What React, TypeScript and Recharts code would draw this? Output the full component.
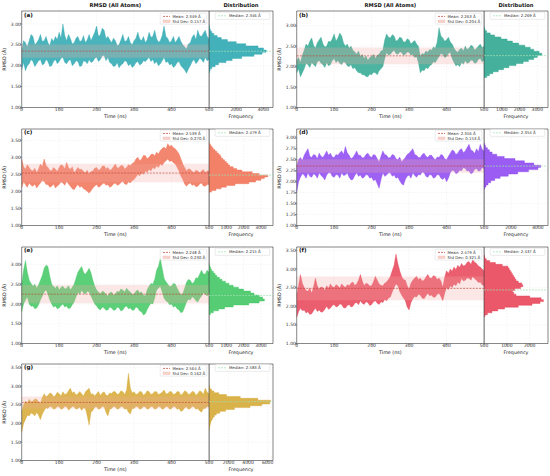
import React from 'react';
import { ComposedChart, Area, XAxis, YAxis, CartesianGrid, ReferenceLine, ReferenceArea } from 'recharts';

const TIME = [
  0, 5, 10, 15, 20, 25, 30, 35, 40, 45,
  50, 55, 60, 65, 70, 75, 80, 85, 90, 95,
  100, 105, 110, 115, 120, 125, 130, 135, 140, 145,
  150, 155, 160, 165, 170, 175, 180, 185, 190, 195,
  200, 205, 210, 215, 220, 225, 230, 235, 240, 245,
  250, 255, 260, 265, 270, 275, 280, 285, 290, 295,
  300, 305, 310, 315, 320, 325, 330, 335, 340, 345,
  350, 355, 360, 365, 370, 375, 380, 385, 390, 395,
  400, 405, 410, 415, 420, 425, 430, 435, 440, 445,
  450, 455, 460, 465, 470, 475, 480, 485, 490, 495,
  500,
];
const TIME_TICKS = [0, 100, 200, 300, 400, 500];

// (a)
const A_HI = [
  2.35, 2.60, 2.55, 2.45, 2.60, 2.75, 2.70, 2.50, 2.55, 2.62,
  2.75, 2.58, 2.60, 2.70, 2.55, 2.48, 2.65, 2.58, 2.70, 2.62,
  2.80, 2.66, 3.00, 2.72, 2.60, 2.75, 2.65, 2.52, 2.55, 2.66,
  2.70, 2.58, 2.60, 2.72, 2.55, 2.62, 2.75, 2.60, 2.70, 2.80,
  2.95, 2.70, 2.75, 2.90, 2.85, 2.65, 2.70, 2.62, 2.55, 2.66,
  2.60, 2.48, 2.50, 2.62, 2.75, 2.58, 2.60, 2.70, 2.55, 2.50,
  2.60, 2.66, 2.80, 2.64, 2.60, 2.70, 2.55, 2.62, 2.80, 2.68,
  2.70, 2.85, 2.65, 2.56, 2.60, 2.72, 2.95, 2.70, 2.65, 2.55,
  2.60, 2.70, 2.55, 2.62, 2.70, 2.58, 2.50, 2.45, 2.40, 2.52,
  2.55, 2.68, 2.75, 2.62, 2.85, 2.72, 2.70, 2.78, 2.85, 2.70,
  2.65,
];
const A_LO = [
  1.90, 2.08, 1.88, 2.00, 2.05, 2.15, 2.10, 1.98, 2.05, 2.12,
  2.15, 2.02, 2.05, 2.15, 2.10, 1.98, 2.00, 2.10, 2.15, 2.05,
  2.10, 2.18, 2.20, 2.08, 2.05, 2.12, 2.15, 2.00, 2.05, 2.12,
  2.10, 1.98, 2.00, 2.12, 2.10, 2.05, 2.15, 2.08, 2.10, 2.18,
  2.20, 2.10, 2.15, 2.24, 2.25, 2.12, 2.20, 2.08, 2.05, 1.98,
  2.00, 2.08, 1.95, 2.02, 2.05, 2.12, 2.10, 2.00, 2.05, 1.96,
  2.00, 2.08, 2.10, 2.02, 2.05, 2.12, 2.10, 2.15, 2.20, 2.10,
  2.15, 2.05, 2.10, 2.00, 2.05, 2.12, 2.20, 2.08, 2.10, 2.02,
  2.05, 1.96, 2.00, 2.08, 2.10, 2.00, 1.95, 1.90, 1.82, 1.92,
  2.00, 2.10, 2.15, 2.05, 2.10, 2.18, 2.15, 2.08, 2.20, 2.12,
  2.15,
];
const A_BINS = [1.85, 1.90, 1.95, 2.00, 2.05, 2.10, 2.15, 2.20, 2.25, 2.30, 2.35, 2.40, 2.45, 2.50, 2.55, 2.60, 2.65, 2.70, 2.75, 2.80, 2.85, 2.90, 2.95];
const A_COUNTS = [30, 80, 200, 450, 700, 1250, 1700, 2400, 3300, 3900, 4200, 4000, 3600, 2700, 2000, 1350, 900, 600, 350, 200, 100, 50, 20];

// (b)
const B_HI = [
  2.15, 2.22, 2.10, 2.28, 2.40, 2.55, 2.50, 2.62, 2.70, 2.52,
  2.45, 2.58, 2.65, 2.72, 2.55, 2.48, 2.50, 2.62, 2.60, 2.68,
  2.80, 2.62, 2.70, 2.82, 2.75, 2.58, 2.50, 2.55, 2.45, 2.50,
  2.40, 2.36, 2.30, 2.38, 2.25, 2.30, 2.20, 2.26, 2.15, 2.22,
  2.25, 2.30, 2.20, 2.28, 2.30, 2.38, 2.40, 2.65, 2.80, 2.72,
  2.70, 2.78, 2.75, 2.62, 2.65, 2.72, 2.70, 2.60, 2.60, 2.68,
  2.65, 2.55, 2.60, 2.64, 2.55, 2.50, 2.25, 2.32, 2.30, 2.38,
  2.35, 2.42, 2.40, 2.48, 2.45, 2.60, 2.95, 2.75, 2.70, 2.62,
  2.65, 2.72, 2.60, 2.55, 2.45, 2.38, 2.35, 2.42, 2.45, 2.38,
  2.50, 2.42, 2.45, 2.52, 2.50, 2.40, 2.45, 2.50, 2.55, 2.46,
  2.50,
];
const B_LO = [
  1.85, 1.95, 1.75, 1.85, 1.95, 2.08, 2.05, 1.98, 2.10, 2.05,
  2.00, 2.12, 2.15, 2.08, 2.05, 1.98, 2.10, 2.02, 2.05, 2.15,
  2.20, 2.10, 2.15, 2.08, 2.05, 2.12, 2.10, 2.02, 2.00, 2.05,
  1.95, 1.98, 1.90, 1.85, 1.85, 1.80, 1.80, 1.76, 1.75, 1.82,
  1.80, 1.86, 1.85, 1.80, 1.90, 1.95, 2.00, 2.20, 2.35, 2.28,
  2.30, 2.36, 2.40, 2.32, 2.30, 2.36, 2.35, 2.28, 2.30, 2.36,
  2.35, 2.28, 2.30, 2.22, 2.25, 2.10, 1.85, 1.92, 1.90, 1.98,
  1.95, 2.02, 2.05, 2.12, 2.10, 2.18, 2.25, 2.32, 2.30, 2.22,
  2.25, 2.32, 2.35, 2.20, 2.10, 2.02, 2.05, 2.00, 2.10, 2.06,
  2.15, 2.08, 2.10, 2.16, 2.15, 2.08, 2.10, 2.18, 2.20, 2.12,
  2.15,
];
const B_BINS = [1.75, 1.80, 1.85, 1.90, 1.95, 2.00, 2.05, 2.10, 2.15, 2.20, 2.25, 2.30, 2.35, 2.40, 2.45, 2.50, 2.55, 2.60, 2.65, 2.70, 2.75, 2.80, 2.85, 2.90, 2.95];
const B_COUNTS = [150, 300, 500, 800, 1100, 1400, 1800, 2200, 2500, 2800, 3000, 3250, 3100, 2800, 2600, 2300, 1950, 1600, 1300, 950, 600, 350, 150, 60, 20];

// (c)
const C_HI = [
  2.95, 2.72, 2.65, 2.78, 2.70, 2.62, 2.60, 2.68, 2.55, 2.66,
  2.80, 2.72, 2.95, 2.76, 2.70, 2.62, 2.60, 2.70, 2.65, 2.58,
  2.70, 2.78, 2.75, 2.66, 2.85, 2.70, 2.65, 2.72, 2.55, 2.62,
  2.70, 2.64, 2.65, 2.58, 2.55, 2.62, 2.50, 2.58, 2.60, 2.68,
  2.70, 2.62, 2.65, 2.74, 2.75, 2.66, 2.70, 2.62, 2.65, 2.72,
  2.80, 2.68, 2.70, 2.76, 2.75, 2.66, 2.70, 2.78, 2.75, 2.82,
  2.85, 2.95, 3.00, 2.90, 2.95, 3.05, 3.05, 2.96, 3.00, 3.08,
  3.10, 3.04, 3.15, 3.10, 3.20, 3.26, 3.30, 3.24, 3.40, 3.32,
  3.35, 3.28, 3.25, 3.18, 3.10, 2.95, 2.80, 2.70, 2.60, 2.66,
  2.65, 2.58, 2.55, 2.62, 2.60, 2.54, 2.60, 2.64, 2.55, 2.60,
  2.60,
];
const C_LO = [
  2.10, 2.28, 2.20, 2.12, 2.25, 2.18, 2.15, 2.22, 2.10, 2.18,
  2.25, 2.32, 2.30, 2.20, 2.20, 2.12, 2.15, 2.22, 2.10, 2.16,
  2.20, 2.28, 2.25, 2.18, 2.30, 2.22, 2.15, 2.08, 2.05, 2.14,
  2.20, 2.12, 2.15, 2.08, 2.05, 2.00, 1.95, 2.02, 2.10, 2.16,
  2.20, 2.12, 2.15, 2.22, 2.25, 2.18, 2.20, 2.12, 2.15, 2.22,
  2.25, 2.18, 2.20, 2.26, 2.30, 2.22, 2.20, 2.28, 2.25, 2.32,
  2.35, 2.42, 2.50, 2.46, 2.55, 2.50, 2.60, 2.56, 2.65, 2.60,
  2.70, 2.66, 2.75, 2.70, 2.80, 2.76, 2.85, 2.90, 2.95, 2.88,
  2.90, 2.84, 2.80, 2.70, 2.60, 2.45, 2.35, 2.22, 2.15, 2.22,
  2.25, 2.18, 2.20, 2.14, 2.15, 2.22, 2.25, 2.16, 2.15, 2.20,
  2.20,
];
const C_BINS = [2.00, 2.05, 2.10, 2.15, 2.20, 2.25, 2.30, 2.35, 2.40, 2.45, 2.50, 2.55, 2.60, 2.65, 2.70, 2.75, 2.80, 2.85, 2.90, 2.95, 3.00, 3.05, 3.10, 3.15, 3.20, 3.25, 3.30, 3.35, 3.40];
const C_COUNTS = [150, 400, 700, 1000, 1500, 2300, 2700, 3000, 3200, 3400, 2900, 2500, 1900, 1600, 1400, 1200, 1100, 1000, 900, 800, 700, 650, 550, 450, 350, 250, 180, 100, 40];

// (d)
const D_HI = [
  2.35, 2.50, 2.55, 2.48, 2.60, 2.68, 2.75, 2.58, 2.55, 2.62,
  2.60, 2.52, 2.65, 2.58, 2.55, 2.62, 2.70, 2.60, 2.65, 2.56,
  2.55, 2.62, 2.60, 2.66, 2.70, 2.62, 2.80, 2.66, 2.60, 2.52,
  2.55, 2.62, 2.70, 2.60, 2.60, 2.54, 2.55, 2.62, 2.65, 2.58,
  2.55, 2.62, 2.60, 2.52, 2.45, 2.58, 2.70, 2.62, 2.60, 2.54,
  2.55, 2.62, 2.60, 2.52, 2.50, 2.56, 2.45, 2.50, 2.55, 2.62,
  2.65, 2.70, 2.75, 2.62, 2.60, 2.55, 2.55, 2.62, 2.65, 2.58,
  2.55, 2.60, 2.60, 2.54, 2.50, 2.56, 2.55, 2.62, 2.60, 2.52,
  2.50, 2.58, 2.65, 2.72, 2.70, 2.62, 2.65, 2.72, 2.75, 2.66,
  2.70, 2.78, 2.85, 2.72, 2.70, 2.64, 2.75, 2.68, 2.85, 2.74,
  2.70,
];
const D_LO = [
  1.75, 2.00, 2.10, 2.18, 2.15, 2.08, 2.20, 2.12, 2.10, 2.18,
  2.15, 2.08, 2.20, 2.14, 2.10, 2.04, 2.15, 2.20, 2.20, 2.12,
  2.10, 2.16, 2.15, 2.08, 2.20, 2.14, 2.15, 2.20, 2.10, 2.04,
  2.05, 2.14, 2.20, 2.12, 2.15, 2.08, 2.10, 2.16, 2.15, 2.08,
  2.10, 2.02, 2.05, 1.95, 1.85, 2.05, 2.20, 2.12, 2.15, 2.20,
  2.20, 2.12, 2.15, 2.08, 2.10, 2.02, 1.95, 1.92, 2.05, 2.12,
  2.15, 2.08, 2.20, 2.14, 2.10, 2.16, 2.15, 2.22, 2.20, 2.12,
  2.10, 2.16, 2.15, 2.08, 2.10, 2.16, 2.15, 2.08, 2.05, 2.10,
  2.00, 2.08, 2.20, 2.26, 2.25, 2.18, 2.20, 2.26, 2.25, 2.32,
  2.30, 2.24, 2.25, 2.18, 2.20, 2.28, 2.30, 2.24, 2.25, 2.32,
  2.30,
];
const D_BINS = [1.85, 1.90, 1.95, 2.00, 2.05, 2.10, 2.15, 2.20, 2.25, 2.30, 2.35, 2.40, 2.45, 2.50, 2.55, 2.60, 2.65, 2.70, 2.75, 2.80, 2.85];
const D_COUNTS = [50, 150, 300, 500, 800, 1200, 1800, 2500, 3300, 4000, 4200, 3700, 3000, 2300, 1500, 950, 600, 400, 250, 120, 50];

// (e)
const E_HI = [
  2.50, 2.85, 3.10, 2.80, 2.60, 2.52, 2.45, 2.50, 2.40, 2.48,
  2.60, 2.72, 2.90, 2.98, 2.95, 2.70, 2.50, 2.44, 2.40, 2.46,
  2.35, 2.42, 2.45, 2.38, 2.40, 2.46, 2.35, 2.42, 2.50, 2.65,
  2.80, 2.88, 2.95, 2.80, 2.75, 2.82, 2.90, 2.78, 2.60, 2.45,
  2.35, 2.30, 2.25, 2.32, 2.30, 2.24, 2.20, 2.28, 2.30, 2.22,
  2.25, 2.32, 2.30, 2.38, 2.35, 2.30, 2.40, 2.34, 2.30, 2.24,
  2.25, 2.32, 2.35, 2.28, 2.30, 2.22, 2.20, 2.36, 2.45, 2.52,
  2.50, 2.62, 2.85, 2.95, 3.15, 2.90, 2.65, 2.56, 2.50, 2.44,
  2.45, 2.52, 2.50, 2.40, 2.30, 2.24, 2.25, 2.40, 2.55, 2.62,
  2.60, 2.52, 2.55, 2.66, 2.65, 2.75, 2.85, 2.76, 2.75, 2.85,
  2.80,
];
const E_LO = [
  1.80, 2.00, 2.10, 2.18, 2.00, 1.94, 1.95, 1.88, 1.90, 1.98,
  2.10, 2.20, 2.30, 2.36, 2.25, 2.10, 2.00, 1.92, 1.95, 1.88,
  1.90, 1.96, 2.00, 1.92, 1.95, 1.88, 1.90, 1.98, 2.05, 2.18,
  2.30, 2.24, 2.35, 2.28, 2.25, 2.32, 2.30, 2.20, 2.10, 2.00,
  1.95, 1.88, 1.85, 1.92, 1.90, 1.84, 1.85, 1.92, 1.90, 1.84,
  1.85, 1.92, 1.90, 1.82, 1.85, 1.92, 1.95, 1.88, 1.90, 1.84,
  1.85, 1.92, 1.90, 1.82, 1.80, 1.72, 1.75, 1.86, 1.95, 2.02,
  2.00, 2.15, 2.35, 2.40, 2.45, 2.30, 2.15, 2.08, 2.05, 1.98,
  2.00, 1.92, 1.95, 1.88, 1.85, 1.78, 1.80, 1.92, 2.05, 2.12,
  2.10, 2.18, 2.15, 2.08, 2.05, 2.14, 2.20, 2.28, 2.25, 2.20,
  2.30,
];
const E_BINS = [1.75, 1.80, 1.85, 1.90, 1.95, 2.00, 2.05, 2.10, 2.15, 2.20, 2.25, 2.30, 2.35, 2.40, 2.45, 2.50, 2.55, 2.60, 2.65, 2.70, 2.75, 2.80, 2.85, 2.90, 2.95, 3.00];
const E_COUNTS = [80, 250, 550, 900, 1400, 2300, 2900, 3200, 3100, 2900, 2600, 2400, 2000, 1700, 1400, 1150, 950, 750, 600, 450, 350, 250, 150, 100, 50, 20];

// (f)
const F_HI = [
  2.30, 2.55, 2.85, 2.62, 2.50, 2.42, 2.40, 2.48, 2.35, 2.52,
  2.75, 2.55, 2.45, 2.52, 2.50, 2.42, 2.55, 2.48, 2.60, 2.52,
  2.50, 2.58, 2.55, 2.48, 2.60, 2.54, 2.50, 2.58, 2.55, 2.62,
  2.65, 2.56, 2.60, 2.70, 2.85, 2.68, 2.55, 2.62, 2.60, 2.54,
  2.55, 2.66, 2.80, 2.70, 2.60, 2.56, 2.55, 2.62, 2.65, 2.72,
  2.80, 2.95, 3.10, 3.40, 3.15, 2.95, 2.80, 2.72, 2.70, 2.55,
  2.45, 2.62, 2.70, 2.76, 2.80, 2.72, 2.75, 2.68, 2.70, 2.78,
  2.85, 2.76, 2.75, 2.82, 2.80, 2.72, 2.75, 2.68, 2.50, 2.78,
  2.95, 2.88, 3.00, 2.94, 3.05, 2.98, 3.10, 3.04, 3.15, 3.08,
  3.10, 3.18, 3.20, 3.12, 3.25, 3.18, 3.15, 3.08, 3.05, 3.00,
  2.95,
];
const F_LO = [
  1.70, 1.85, 1.95, 1.88, 1.90, 1.82, 1.85, 1.78, 1.80, 1.88,
  1.95, 1.86, 1.90, 1.84, 1.85, 1.92, 2.00, 1.92, 1.95, 2.02,
  2.05, 1.98, 2.00, 2.06, 2.05, 1.96, 1.95, 2.02, 2.05, 1.98,
  2.00, 2.08, 2.10, 2.04, 2.15, 2.08, 2.05, 2.12, 2.10, 2.02,
  2.05, 2.12, 2.15, 2.08, 2.05, 2.12, 2.10, 2.18, 2.15, 2.22,
  2.25, 2.38, 2.50, 2.60, 2.55, 2.40, 2.30, 2.22, 2.15, 1.98,
  1.90, 2.10, 2.20, 2.26, 2.25, 2.32, 2.30, 2.22, 2.20, 2.28,
  2.35, 2.28, 2.30, 2.24, 2.25, 2.32, 2.35, 2.26, 2.15, 2.35,
  2.50, 2.45, 2.55, 2.50, 2.60, 2.55, 2.65, 2.60, 2.75, 2.68,
  2.70, 2.76, 2.75, 2.70, 2.80, 2.74, 2.70, 2.64, 2.65, 2.58,
  2.55,
];
const F_BINS = [1.75, 1.80, 1.85, 1.90, 1.95, 2.00, 2.05, 2.10, 2.15, 2.20, 2.25, 2.30, 2.35, 2.40, 2.45, 2.50, 2.55, 2.60, 2.65, 2.70, 2.75, 2.80, 2.85, 2.90, 2.95, 3.00, 3.05, 3.10, 3.15, 3.20, 3.25, 3.30, 3.35];
const F_COUNTS = [50, 150, 350, 600, 900, 1500, 2100, 2450, 2600, 2500, 2000, 1400, 1300, 1250, 1350, 1600, 1700, 1650, 1500, 1400, 1350, 1300, 1250, 1200, 1150, 1100, 1050, 800, 500, 250, 100, 40, 20];

// (g)
const G_HI = [
  2.30, 2.50, 2.60, 2.55, 2.65, 2.58, 2.60, 2.66, 2.65, 2.58,
  2.55, 2.70, 2.80, 2.72, 2.75, 2.82, 2.80, 2.72, 2.75, 2.84,
  2.80, 2.74, 2.85, 2.78, 2.80, 2.88, 2.95, 2.82, 2.85, 2.76,
  2.80, 2.86, 2.80, 2.74, 2.85, 2.90, 2.95, 2.78, 2.80, 2.74,
  2.80, 2.86, 2.75, 2.82, 2.85, 2.76, 2.75, 2.82, 2.80, 2.86,
  2.85, 2.78, 2.80, 2.88, 2.85, 2.78, 2.90, 3.35, 2.95, 2.82,
  2.85, 2.78, 2.80, 2.86, 2.85, 2.76, 2.80, 2.88, 2.85, 2.78,
  2.80, 2.86, 2.85, 2.78, 2.80, 2.84, 2.90, 2.80, 2.80, 2.86,
  2.85, 2.78, 2.80, 2.86, 2.85, 2.76, 2.80, 2.88, 2.85, 2.78,
  2.80, 2.86, 2.85, 2.76, 2.80, 2.88, 2.85, 2.78, 2.95, 2.84,
  2.80,
];
const G_LO = [
  1.75, 2.00, 2.10, 2.22, 2.20, 2.28, 2.25, 2.20, 2.30, 2.22,
  2.10, 2.25, 2.35, 2.42, 2.40, 2.46, 2.45, 2.38, 2.40, 2.46,
  2.45, 2.38, 2.40, 2.46, 2.45, 2.36, 2.40, 2.46, 2.45, 2.38,
  2.40, 2.44, 2.35, 2.42, 2.40, 2.20, 1.95, 2.30, 2.35, 2.44,
  2.45, 2.38, 2.40, 2.46, 2.45, 2.30, 2.20, 2.38, 2.40, 2.46,
  2.45, 2.38, 2.40, 2.46, 2.45, 2.38, 2.40, 2.30, 2.25, 2.40,
  2.40, 2.46, 2.45, 2.38, 2.40, 2.46, 2.45, 2.38, 2.40, 2.46,
  2.45, 2.38, 2.40, 2.46, 2.45, 2.38, 2.40, 2.46, 2.45, 2.38,
  2.40, 2.46, 2.45, 2.38, 2.40, 2.32, 2.35, 2.42, 2.45, 2.38,
  2.40, 2.46, 2.45, 2.38, 2.40, 2.34, 2.30, 2.40, 2.40, 2.46,
  2.45,
];
const G_BINS = [1.85, 1.90, 1.95, 2.00, 2.05, 2.10, 2.15, 2.20, 2.25, 2.30, 2.35, 2.40, 2.45, 2.50, 2.55, 2.60, 2.65, 2.70, 2.75, 2.80, 2.85, 2.90, 2.95, 3.00];
const G_COUNTS = [30, 60, 100, 150, 200, 300, 400, 550, 750, 1100, 1700, 2600, 4200, 5400, 6200, 6300, 5000, 3200, 1800, 1000, 500, 250, 100, 40];

const LABELS = ['(a)', '(b)', '(c)', '(d)', '(e)', '(f)', '(g)'];
const MEANS = [2.349, 2.263, 2.539, 2.356, 2.248, 2.479, 2.564];
const SDS = [0.157, 0.204, 0.270, 0.153, 0.230, 0.321, 0.162];
const MEDIANS = [2.346, 2.269, 2.479, 2.354, 2.215, 2.437, 2.583];
const Y_MAX = [3.31, 3.36, 3.83, 3.2, 3.44, 3.59, 3.6];
const Y_TICKS_HALF = [1, 1.5, 2, 2.5, 3];
const Y_TICKS_HALF35 = [1, 1.5, 2, 2.5, 3, 3.5];
const Y_TICKS_QUARTER = [1, 1.25, 1.5, 1.75, 2, 2.25, 2.5, 2.75, 3];
const Y_TICKS = [Y_TICKS_HALF, Y_TICKS_HALF, Y_TICKS_HALF35, Y_TICKS_QUARTER, Y_TICKS_HALF, Y_TICKS_HALF35, Y_TICKS_HALF35];
const FREQ_MAX = [4700, 3600, 3700, 4750, 3700, 2800, 6550];
const FREQ_TICKS = [[2000, 4000], [1000, 2000, 3000], [1000, 2000, 3000], [2000, 4000], [1000, 2000, 3000], [1000, 2000], [2000, 4000, 6000]];
const COLORS = ['#22a3ad', '#25a38b', '#f06b4e', '#8840f0', '#38c45c', '#e63b50', '#d4a52a'];
const LOWS = [A_LO, B_LO, C_LO, D_LO, E_LO, F_LO, G_LO];
const HIGHS = [A_HI, B_HI, C_HI, D_HI, E_HI, F_HI, G_HI];
const BINS = [A_BINS, B_BINS, C_BINS, D_BINS, E_BINS, F_BINS, G_BINS];
const COUNTS = [A_COUNTS, B_COUNTS, C_COUNTS, D_COUNTS, E_COUNTS, F_COUNTS, G_COUNTS];
const BIN_WIDTH = 0.05;

// layout
const FONT = '"DejaVu Sans", Verdana, sans-serif';
const COL_X = [0, 275, 0, 275, 0, 275, 0];
const ROW_TOP = [11, 11, 128.5, 128.5, 246.8, 246.8, 363.5];
const PLOT_H = 96.5;
const MT = 4;
const XH = 13;
const TS_LEFT = 21.7;
const TS_RIGHT = 209;
const HIST_W = 64;
const EXTRA_R = 7;
const TICK_STYLE = { fontSize: 4.5, fill: '#333', fontFamily: FONT };
const SPINE = '#3a3a3a';
const MEAN_COLOR = '#c0392b';
const SD_COLOR = '#f1a9a0';
const MEDIAN_COLOR = '#9fe0b0';

// histogram outline points: lower bin edges (stepBefore), plus closing upper edge
function histRows(bins: number[], counts: number[]) {
  const rows = bins.map((c, k) => ({ edge: c - BIN_WIDTH / 2, count: counts[k] }));
  rows.push({ edge: bins[bins.length - 1] + BIN_WIDTH / 2, count: counts[counts.length - 1] });
  return rows;
}

function TsLegend({ left, top, mean, sd }: { left: number; top: number; mean: number; sd: number }) {
  const w = 47, h = 11.3;
  return (
    <svg style={{ position: 'absolute', left, top, overflow: 'visible' }} width={w} height={h}>
      <rect x={0.2} y={0.2} width={w - 0.4} height={h - 0.4} rx={1} fill="#fff" fillOpacity={0.85} stroke="#cfcfcf" strokeWidth={0.4} />
      <line x1={3} x2={10} y1={3.4} y2={3.4} stroke={MEAN_COLOR} strokeWidth={0.7} strokeDasharray="2 1" />
      <text x={12.5} y={4.8} fontSize={3.9} fontFamily={FONT} fill="#333">{`Mean: ${mean.toFixed(3)} Å`}</text>
      <rect x={3} y={7} width={7} height={2.6} fill={SD_COLOR} fillOpacity={0.5} stroke={SD_COLOR} strokeWidth={0.3} />
      <text x={12.5} y={9.7} fontSize={3.9} fontFamily={FONT} fill="#333">{`Std Dev: ${sd.toFixed(3)} Å`}</text>
    </svg>
  );
}

function HistLegend({ left, top, median }: { left: number; top: number; median: number }) {
  const w = 55, h = 7.6;
  return (
    <svg style={{ position: 'absolute', left, top, overflow: 'visible' }} width={w} height={h}>
      <rect x={0.2} y={0.2} width={w - 0.4} height={h - 0.4} rx={1} fill="#fff" fillOpacity={0.85} stroke="#cfcfcf" strokeWidth={0.4} />
      <line x1={3} x2={11} y1={3.8} y2={3.8} stroke={MEDIAN_COLOR} strokeWidth={0.7} strokeDasharray="2 1" />
      <text x={14} y={5.2} fontSize={3.9} fontFamily={FONT} fill="#333">{`Median: ${median.toFixed(3)} Å`}</text>
    </svg>
  );
}

function Panel({ i }: { i: number }) {
  const x0 = COL_X[i];
  const plotTop = ROW_TOP[i];
  const chartTop = plotTop - MT;
  const H = MT + PLOT_H + XH;
  const yMax = Y_MAX[i];
  const color = COLORS[i];
  const tsData = TIME.map((t, k) => ({ t, range: [LOWS[i][k], HIGHS[i][k]] }));
  const histData = histRows(BINS[i], COUNTS[i]);
  const yFmt = (v: number) => v.toFixed(2);
  return (
    <>
      <div style={{ position: 'absolute', left: x0, top: chartTop }}>
        <ComposedChart width={TS_RIGHT + EXTRA_R} height={H} data={tsData} margin={{ top: MT, right: EXTRA_R, bottom: 0, left: 0 }}>
          <CartesianGrid stroke="#e4e4e4" strokeWidth={0.4} strokeDasharray="1.5 1.5" />
          <XAxis
            dataKey="t"
            type="number"
            domain={[0, 500]}
            ticks={TIME_TICKS}
            height={XH}
            tick={TICK_STYLE}
            tickSize={1.6}
            tickMargin={-1.2}
            axisLine={false}
            tickLine={{ stroke: SPINE, strokeWidth: 0.5 }}
            interval={0}
            label={{ value: 'Time (ns)', position: 'insideBottom', offset: 2.8, style: { fontSize: 4.8, fill: '#222', fontFamily: FONT } }}
          />
          <YAxis
            type="number"
            domain={[1, yMax]}
            ticks={Y_TICKS[i]}
            width={TS_LEFT}
            tick={TICK_STYLE}
            tickFormatter={yFmt}
            tickSize={1.6}
            tickMargin={-0.8}
            axisLine={false}
            tickLine={{ stroke: SPINE, strokeWidth: 0.5 }}
            interval={0}
            allowDataOverflow
            label={{ value: 'RMSD (Å)', angle: -90, position: 'insideLeft', offset: 4, style: { fontSize: 4.8, fill: '#222', fontFamily: FONT, textAnchor: 'middle' } }}
          />
          <Area
            dataKey="range"
            type="linear"
            stroke={color}
            strokeWidth={0.5}
            strokeOpacity={0.7}
            fill={color}
            fillOpacity={0.82}
            dot={false}
            activeDot={false}
            isAnimationActive={false}
          />
          <ReferenceArea y1={MEANS[i] - SDS[i]} y2={MEANS[i] + SDS[i]} fill={SD_COLOR} fillOpacity={0.28} stroke="none" />
          <ReferenceLine y={MEANS[i]} stroke={MEAN_COLOR} strokeWidth={0.6} strokeDasharray="2 1.2" />
          <ReferenceArea x1={0} x2={500} y1={1} y2={yMax} fill="none" stroke={SPINE} strokeWidth={0.6} ifOverflow="visible" />
        </ComposedChart>
      </div>
      <div style={{ position: 'absolute', left: x0 + TS_RIGHT, top: chartTop }}>
        <ComposedChart layout="vertical" width={HIST_W + EXTRA_R} height={H} data={histData} margin={{ top: MT, right: EXTRA_R, bottom: 0, left: 0 }}>
          <CartesianGrid stroke="#e4e4e4" strokeWidth={0.4} strokeDasharray="1.5 1.5" />
          <XAxis
            type="number"
            dataKey="count"
            domain={[0, FREQ_MAX[i]]}
            ticks={FREQ_TICKS[i]}
            height={XH}
            tick={TICK_STYLE}
            tickSize={1.6}
            tickMargin={-1.2}
            axisLine={false}
            tickLine={{ stroke: SPINE, strokeWidth: 0.5 }}
            interval={0}
            allowDataOverflow
            label={{ value: 'Frequency', position: 'insideBottom', offset: 2.8, style: { fontSize: 4.8, fill: '#222', fontFamily: FONT } }}
          />
          <YAxis type="number" dataKey="edge" domain={[1, yMax]} ticks={Y_TICKS[i]} hide width={0} reversed allowDataOverflow />
          <Area
            dataKey="count"
            type="stepBefore"
            fill={color}
            fillOpacity={0.85}
            stroke={color}
            strokeWidth={0.4}
            dot={false}
            activeDot={false}
            isAnimationActive={false}
          />
          <ReferenceLine y={MEDIANS[i]} stroke={MEDIAN_COLOR} strokeWidth={0.7} strokeDasharray="2 1" />
          <ReferenceArea x1={0} x2={FREQ_MAX[i]} y1={1} y2={yMax} fill="none" stroke={SPINE} strokeWidth={0.6} ifOverflow="visible" />
        </ComposedChart>
      </div>
      <div style={{ position: 'absolute', left: x0 + TS_LEFT + 2.2, top: plotTop + 1.6, fontFamily: FONT, fontWeight: 'bold', fontSize: 5.6, color: '#111', lineHeight: 1 }}>
        {LABELS[i]}
      </div>
      <TsLegend left={x0 + TS_RIGHT - 49} top={plotTop + 1.7} mean={MEANS[i]} sd={SDS[i]} />
      <HistLegend left={x0 + TS_RIGHT + 6} top={plotTop + 0.8} median={MEDIANS[i]} />
    </>
  );
}

function Titles({ x0 }: { x0: number }) {
  const common: React.CSSProperties = { position: 'absolute', top: 3, fontFamily: FONT, fontWeight: 'bold', fontSize: 5.2, color: '#111', lineHeight: 1, whiteSpace: 'nowrap', transform: 'translateX(-50%)' };
  return (
    <>
      <div style={{ ...common, left: x0 + (TS_LEFT + TS_RIGHT) / 2 }}>RMSD (All Atoms)</div>
      <div style={{ ...common, left: x0 + TS_RIGHT + HIST_W / 2 }}>Distribution</div>
    </>
  );
}

export default function App() {
  return (
    <div style={{ position: 'relative', width: 550, height: 476, background: '#fff', overflow: 'hidden' }}>
      <style>{`body{margin:0;background:#fff}`}</style>
      <Titles x0={0} />
      <Titles x0={275} />
      {LABELS.map((_, i) => (
        <Panel key={i} i={i} />
      ))}
    </div>
  );
}
